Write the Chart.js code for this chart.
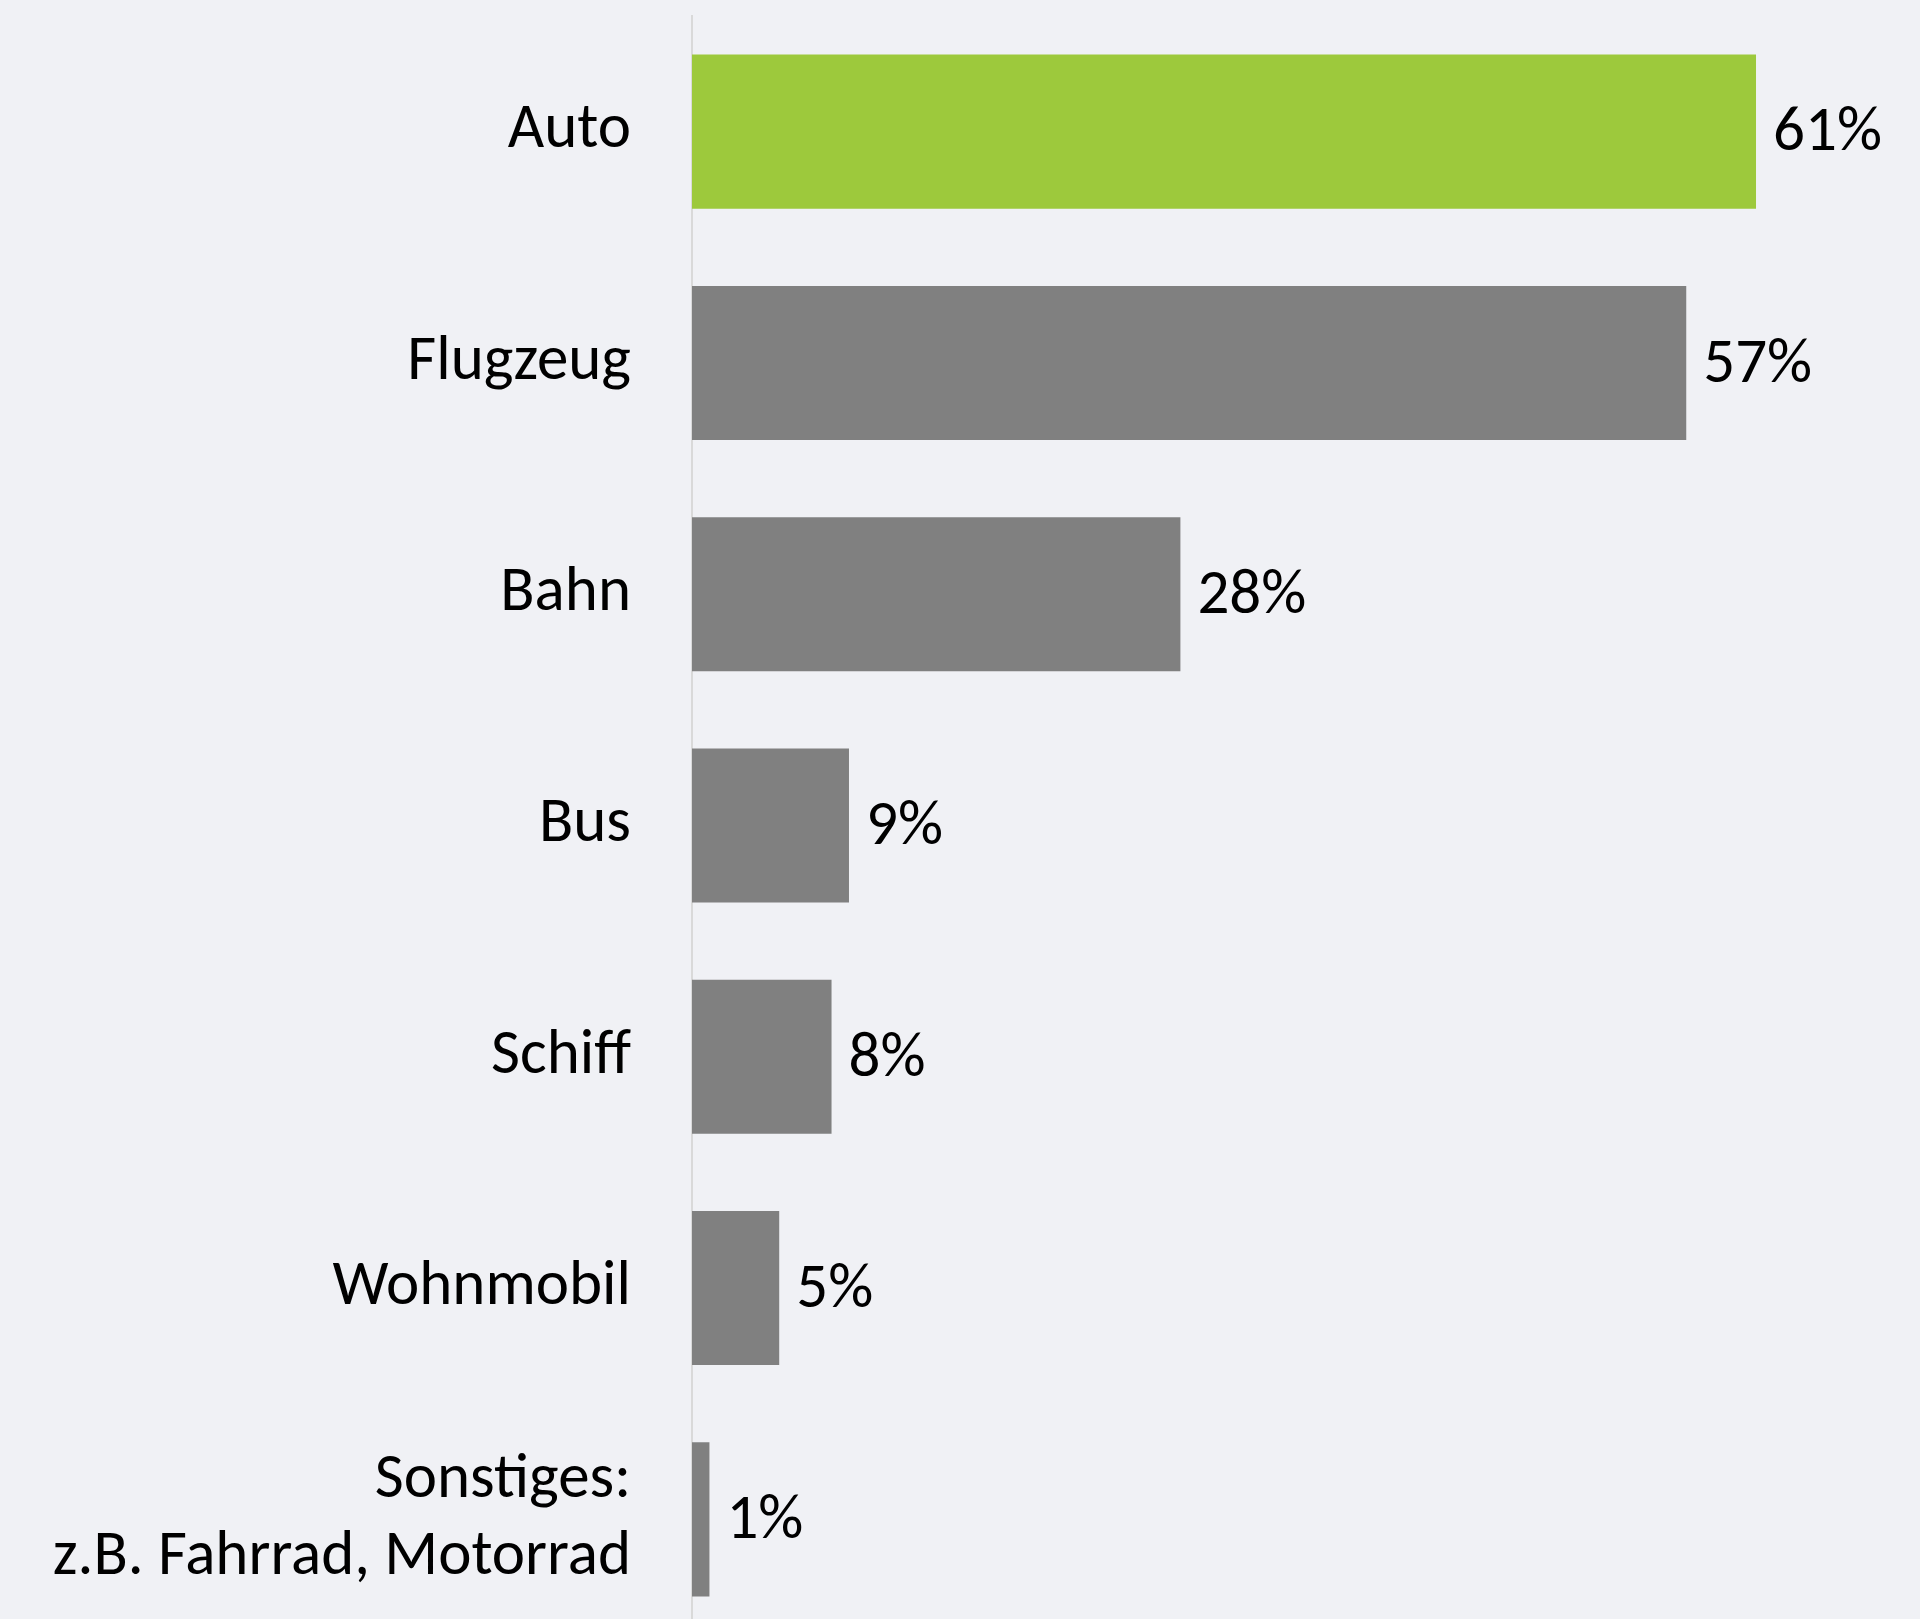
<!DOCTYPE html>
<html>
<head>
<meta charset="utf-8">
<script src="https://cdn.jsdelivr.net/npm/chart.js@4/dist/chart.umd.min.js"></script>
<style>
  html, body { margin: 0; padding: 0; background: #f0f1f5; overflow: hidden; }
  body { width: 1920px; height: 1619px; }
  canvas { display: block; }
</style>
</head>
<body>
<canvas id="chart" width="1920" height="1635"></canvas>
<script>
// Verkehrsmittel und Anteile
const categories = ['Auto', 'Flugzeug', 'Bahn', 'Bus', 'Schiff', 'Wohnmobil', ['Sonstiges:', 'z.B. Fahrrad, Motorrad']];
const shares = [61, 57, 28, 9, 8, 5, 1];
const barColors = ['#9dc93c', '#808080', '#808080', '#808080', '#808080', '#808080', '#808080'];

const FONT = "Carlito, Lato, 'Open Sans', sans-serif";

// draws "61%" etc. right of each bar
const valueLabels = {
    id: 'valueLabels',
    afterDatasetsDraw(chart) {
        const ctx = chart.ctx;
        const meta = chart.getDatasetMeta(0);
        ctx.save();
        ctx.font = '63px ' + FONT;
        ctx.fillStyle = '#000';
        ctx.textAlign = 'left';
        ctx.textBaseline = 'middle';
        meta.data.forEach((bar, i) => {
            ctx.fillText(shares[i] + '%', bar.x + 17, bar.y + 3);
        });
        ctx.restore();
    }
};

new Chart(document.getElementById('chart'), {
    type: 'bar',
    data: {
        labels: categories,
        datasets: [{
            data: shares,
            backgroundColor: barColors,
            borderWidth: 0,
            categoryPercentage: 1,
            barPercentage: 0.666
        }]
    },
    options: {
        indexAxis: 'y',
        responsive: false,
        animation: false,
        layout: { padding: { top: 16, right: 7, bottom: 0, left: 0 } },
        plugins: {
            legend: { display: false },
            tooltip: { enabled: false }
        },
        scales: {
            x: {
                display: false,
                min: 0,
                max: 70
            },
            y: {
                afterFit(scale) {
                    scale.width = 692;
                    scale.paddingTop = 0;
                    scale.paddingBottom = 0;
                },
                grid: { display: false, drawTicks: false },
                border: { display: true, color: '#d9d9d9', width: 2 },
                ticks: {
                    color: '#000',
                    padding: 61,
                    font: { family: FONT, size: 63, lineHeight: 1.22 }
                }
            }
        }
    },
    plugins: [valueLabels]
});
</script>
</body>
</html>
